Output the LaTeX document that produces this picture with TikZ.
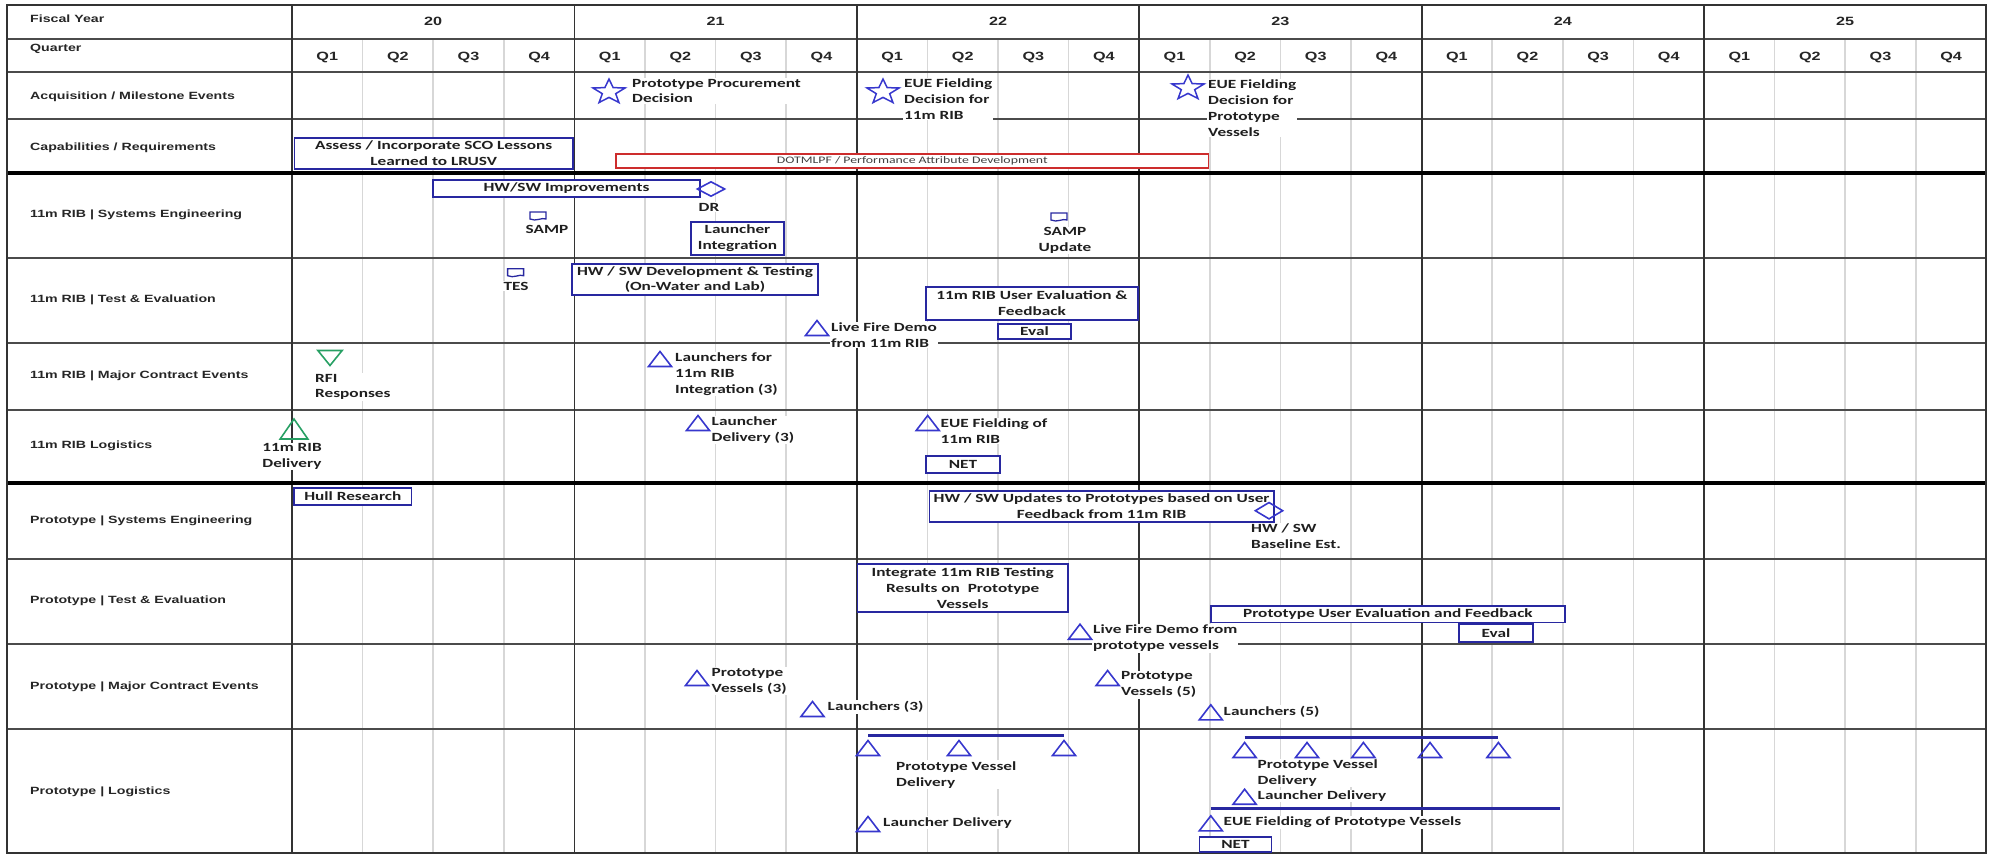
\documentclass[tikz,border=0pt]{standalone}
\usepackage{fontspec}
\usetikzlibrary{shapes.geometric,calc}
\newfontfamily\labfont[FakeStretch=1.35]{Liberation Sans}
\newfontfamily\evfont[FakeStretch=1.38]{Carlito}
\definecolor{boxblue}{RGB}{40,40,160}
\definecolor{triblue}{RGB}{55,55,205}
\definecolor{gridgray}{RGB}{75,75,75}
\definecolor{qgray}{RGB}{215,215,215}
\definecolor{rfigreen}{RGB}{40,160,100}
\definecolor{dotred}{RGB}{205,45,45}
\tikzset{docsym/.pic={\draw[boxblue, line width=1.3pt, fill=white] (-8,-4) -- (8,-4) -- (8,3) .. controls (4,1) and (-2,6) .. (-8,3) -- cycle;}}
\begin{document}
\begin{tikzpicture}[x=1pt,y=-1pt,
 qline/.style={draw=qgray, line width=1.6pt},
 rowline/.style={draw=gridgray, line width=1.8pt},
 yearline/.style={draw=black!80, line width=1.8pt},
 sepline/.style={draw=black, line width=4pt},
 rowlab/.style={anchor=west, inner sep=0pt, font=\labfont\bfseries\fontsize{10.5}{12}\selectfont, text=black!85},
 hdr/.style={inner sep=0pt, font=\labfont\bfseries\fontsize{12}{14}\selectfont, text=black!85},
 evtext/.style={anchor=west, align=left, inner sep=1pt, fill=white, font=\evfont\bfseries\fontsize{12.5}{15.8}\selectfont, text=black!88},
 evbox/.style={draw=boxblue, line width=1.6pt, fill=white, align=center, inner sep=0pt, font=\evfont\bfseries\fontsize{12.5}{15.8}\selectfont, text=black!88},
 tri/.style={yshift=-2.5pt, regular polygon, regular polygon sides=3, draw=triblue, line width=1.6pt, minimum size=20pt, inner sep=0pt, xscale=1.33},
 starsym/.style={star, star points=5, star point ratio=2.4, draw=triblue, line width=1.5pt, minimum size=26pt, inner sep=0pt, xscale=1.3},
 dia/.style={diamond, draw=triblue, line width=1.6pt, inner sep=0pt, minimum width=28pt, minimum height=15pt},
 blueline/.style={draw=boxblue, line width=3pt}
]
\useasboundingbox (0,0) rectangle (1993,854);
% ---------- grid ----------
\foreach \yr in {0,...,5}{\foreach \q in {1,2,3}{\draw[qline] ({292+282.4*\yr+70.6*\q},39) -- ({292+282.4*\yr+70.6*\q},853);}}
\foreach \yy in {39,72,119,258,343,410,559,644,729}{\draw[rowline] (7,\yy) -- (1986,\yy);}
\foreach \yr in {0,...,5}{\draw[yearline] ({292+282.4*\yr},5) -- ({292+282.4*\yr},853);}
\draw[sepline] (7,173) -- (1986,173);
\draw[sepline] (7,483) -- (1986,483);
\draw[draw=black!80, line width=2pt] (7,5) rectangle (1986,853);
% ---------- headers ----------
\foreach \yr/\t in {0/20,1/21,2/22,3/23,4/24,5/25}{\node[hdr] (y\t) at ({292+282.4*(\yr+0.5)},21) {\t};}
\foreach \yr in {0,...,5}{\foreach \q in {1,2,3,4}{\node[hdr] (q\yr\q) at ({292+282.4*\yr+70.6*(\q-0.5)},57) {Q\q};}}
\node[rowlab] (l0) at (30,19) {Fiscal Year};
\node[rowlab] (l1) at (30,49) {Quarter};
\node[rowlab] (l2) at (30,97) {Acquisition / Milestone Events};
\node[rowlab] (l3) at (30,148) {Capabilities / Requirements};
\node[rowlab] (l4) at (30,215) {11m RIB | Systems Engineering};
\node[rowlab] (l5) at (30,300) {11m RIB | Test \& Evaluation};
\node[rowlab] (l6) at (30,376) {11m RIB | Major Contract Events};
\node[rowlab] (l7) at (30,446) {11m RIB Logistics};
\node[rowlab] (l8) at (30,521) {Prototype | Systems Engineering};
\node[rowlab] (l9) at (30,601) {Prototype | Test \& Evaluation};
\node[rowlab] (l10) at (30,687) {Prototype | Major Contract Events};
\node[rowlab] (l11) at (30,792) {Prototype | Logistics};
% ---------- event texts ----------
\node[evtext] (t1) at (631,91) {Prototype Procurement\\Decision};
\node[evtext] (t2) at (903,99) {EUE Fielding\\Decision for\\11m RIB};
\node[evtext] (t3) at (1207,108) {EUE Fielding\\Decision for\\Prototype\\Vessels};
\node[evtext, anchor=center] (tdr) at (709,207) {DR};
\node[evtext, anchor=center] (tsamp) at (547,229) {SAMP};
\node[evtext, anchor=center, align=center] (tsamp2) at (1065,240.5) {SAMP\\Update};
\node[evtext, anchor=center] (ttes) at (516,286) {TES};
\node[evtext] (t4) at (830,335) {Live Fire Demo\\from 11m RIB};
\node[evtext] (t5) at (674,374) {Launchers for\\11m RIB\\Integration (3)};
\node[evtext] (t6) at (314,387) {RFI\\Responses};
\node[evtext] (t7) at (710.5,430) {Launcher\\Delivery (3)};
\node[evtext] (t8) at (939.5,431) {EUE Fielding of\\11m RIB};
\node[evtext, anchor=center, align=center] (t9) at (292,456.5) {11m RIB\\Delivery};
\node[evtext] (t10) at (1092,638.3) {Live Fire Demo from\\prototype vessels};
\node[evtext] (t11) at (710.5,681) {Prototype\\Vessels (3)};
\node[evtext] (t12) at (826.5,707) {Launchers (3)};
\node[evtext] (t13) at (1120,684.7) {Prototype\\Vessels (5)};
\node[evtext] (t14) at (1222.5,712) {Launchers (5)};
\node[evtext] (t15) at (895,774.7) {Prototype Vessel\\Delivery};
\node[evtext] (t16) at (882,822.7) {Launcher Delivery};
\node[evtext] (t17) at (1256.5,773) {Prototype Vessel\\Delivery};
\node[evtext] (t18) at (1256.5,796) {Launcher Delivery};
\node[evtext] (t19) at (1222.5,822.3) {EUE Fielding of Prototype Vessels};
% ---------- boxes ----------
\node[evbox, minimum width=278.2pt, minimum height=31pt] (assess) at (433.7,153.5) {Assess / Incorporate SCO Lessons\\Learned to LRUSV};
\node[evbox, draw=dotred, line width=1.4pt, minimum width=592.5pt, minimum height=14pt, font=\evfont\fontsize{10}{12}\selectfont, text=black!75] (dotm) at (912.25,161) {DOTMLPF / Performance Attribute Development};
\node[evbox, minimum width=267pt, minimum height=17pt] (hwimp) at (566.5,188.5) {HW/SW Improvements};
\node[evbox, minimum width=93pt, minimum height=33pt] (lint) at (737.5,238.5) {Launcher\\Integration};
\node[evbox, minimum width=246pt, minimum height=31pt] (hwdev) at (695,279.5) {HW / SW Development \& Testing\\(On-Water and Lab)};
\node[evbox, minimum width=212pt, minimum height=33pt] (ueval) at (1032,303.5) {11m RIB User Evaluation \&\\Feedback};
\node[evbox, minimum width=73pt, minimum height=15pt] (eval1) at (1034.5,331.5) {Eval};
\node[evbox, minimum width=74pt, minimum height=17pt] (net1) at (963,464.5) {NET};
\node[evbox, minimum width=117.6pt, minimum height=17pt] (hull) at (352.8,496.5) {Hull Research};
\node[evbox, minimum width=344.2pt, minimum height=31pt] (hwupd) at (1101.6,506.2) {HW / SW Updates to Prototypes based on User\\Feedback from 11m RIB};
\node[evbox, minimum width=210.3pt, minimum height=47.7pt] (integ) at (962.75,587.85) {Integrate 11m RIB Testing\\Results on~ Prototype\\Vessels};
\node[evbox, minimum width=354.2pt, minimum height=16.6pt] (pueval) at (1387.9,614) {Prototype User Evaluation and Feedback};
\node[evbox, minimum width=74pt, minimum height=17.7pt] (eval2) at (1496,632.85) {Eval};
\node[evbox, minimum width=72pt, minimum height=15pt] (net2) at (1235.5,844.2) {NET};
\node[evtext] (t20) at (1250,536) {HW / SW\\Baseline Est.};
% ---------- symbols ----------
\node[starsym] (s1) at (609,92) {};
\node[starsym] (s2) at (883,92) {};
\node[starsym] (s3) at (1188,88) {};
\node[dia] (d1) at (711,189) {};
\node[dia, minimum height=17pt] (d2) at (1269,510.7) {};
\pic (doc1) at (538,216) {docsym};
\pic (doc2) at (515.6,272.7) {docsym};
\pic (doc3) at (1059,217) {docsym};
\node[tri] (a1) at (817,328) {};
\node[tri] (a2) at (660,359) {};
\node[tri] (a3) at (698,423) {};
\node[tri] (a4) at (927.7,423) {};
\node[yshift=2.5pt, rotate=180, regular polygon, regular polygon sides=3, draw=rfigreen, line width=1.6pt, minimum size=20pt, inner sep=0pt, xscale=1.4] (rfi) at (330,358) {};
\node[yshift=-3.3pt, regular polygon, regular polygon sides=3, draw=rfigreen, line width=1.6pt, minimum size=26.6pt, inner sep=0pt, xscale=1.2] (ribdel) at (294,429) {};
\node[tri] (a5) at (1080,631.7) {};
\node[tri] (a6) at (697,678) {};
\node[tri] (a7) at (812.5,709) {};
\node[tri] (a8) at (1107.6,678) {};
\node[tri] (a9) at (1210.8,712.3) {};
\node[tri] (g1a) at (868,748) {};
\node[tri] (g1b) at (959,748) {};
\node[tri] (g1c) at (1064,748) {};
\node[tri] (a10) at (868,824) {};
\node[tri] (g2a) at (1244.6,750) {};
\node[tri] (g2b) at (1307,750) {};
\node[tri] (g2c) at (1363.4,750) {};
\node[tri] (g2d) at (1430,750) {};
\node[tri] (g2e) at (1498.4,750) {};
\node[tri] (a11) at (1244.6,796.7) {};
\node[tri] (a12) at (1210.8,823.3) {};
\draw[blueline] ([yshift=3pt]g1a.north) -- ([yshift=3pt]g1c.north);
\draw[blueline] ([yshift=3pt]g2a.north) -- ([yshift=3pt]g2e.north);
\coordinate (l3a) at (1210.8,808.7);
\coordinate (l3b) at (1559.7,808.7);
\draw[blueline] (l3a) -- (l3b);
\end{tikzpicture}
\end{document}
